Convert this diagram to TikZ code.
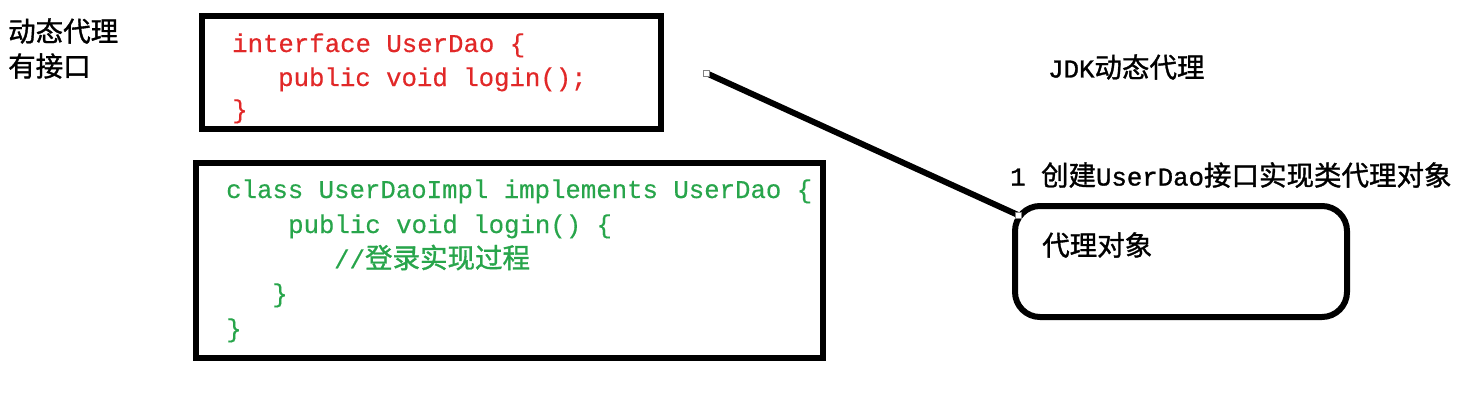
\documentclass[tikz,border=0pt]{standalone}
\usepackage{fontspec}
\setmainfont{Liberation Serif}
\newfontfamily\codefont[FakeBold=0.4]{Liberation Mono}
\newfontfamily\labelmono[FakeBold=1.2]{Liberation Mono}
\newfontfamily\cjk[FakeBold=1.2]{Noto Sans CJK SC}
\usetikzlibrary{positioning}
\definecolor{codered}{RGB}{225,40,40}
\definecolor{codegreen}{RGB}{40,165,75}
\newcommand{\zh}[1]{{\cjk\fontsize{27.5}{30}\selectfont #1}}
\newcommand{\lat}[1]{{\labelmono\fontsize{25.7}{30}\selectfont #1}}

\begin{document}
\begin{tikzpicture}[
    x=1pt, y=-1pt,
    box/.style={rectangle, draw, line width=6pt, inner sep=0pt},
    code/.style={anchor=base west, inner sep=0pt,
                 font=\codefont\fontsize{25.7}{30}\selectfont},
    label/.style={anchor=west, inner sep=0pt,
                  font=\cjk\fontsize{27.5}{30}\selectfont},
    handle/.style={rectangle, draw=gray, fill=white, line width=0.8pt,
                   minimum size=6pt, inner sep=0pt},
    wire/.style={line width=6pt}
]
\useasboundingbox (0,0) rectangle (1482,405);

% left note
\node[label] (title1) at (8,31) {动态代理};
\node[label] (title2) at (8,66) {有接口};

% interface
\node[box, minimum width=459pt, minimum height=113pt] (iface) at (431.5,72.5) {};
\node[code, codered] (i1) at (232,52) {interface UserDao \{};
\node[code, codered] (i2) at (278,86) {public void login();};
\node[code, codered] (i3) at (232,118) {\}};

% implementation
\node[box, minimum width=627pt, minimum height=195pt] (impl) at (509.5,260.5) {};
\node[code, codegreen] (c1) at (226,198) {class UserDaoImpl implements UserDao \{};
\node[code, codegreen] (c2) at (288,233) {public void login() \{};
\node[code, codegreen] (c3) at (334,268) {//\zh{登录实现过程}};
\node[code, codegreen] (c4) at (272,302) {\}};
\node[code, codegreen] (c5) at (226,337) {\}};

% proxy side
\node[label] (jdk) at (1048,67) {\lat{JDK}动态代理};
\node[label] (step1) at (1010,175) {\lat{1 }创建\lat{UserDao}接口实现类代理对象};
\node[box, rounded corners=25pt, minimum width=332pt, minimum height=111pt] (proxy) at (1181,261.5) {};
\node[label] (proxytxt) at (1042,245) {代理对象};

% connector
\coordinate (p1) at (706,73);
\coordinate (p2) at (1018,215);
\draw[wire] (p1) -- (p2);
\node[handle] (h1) at (p1) {};
\node[handle] (h2) at (p2) {};
\end{tikzpicture}
\end{document}
